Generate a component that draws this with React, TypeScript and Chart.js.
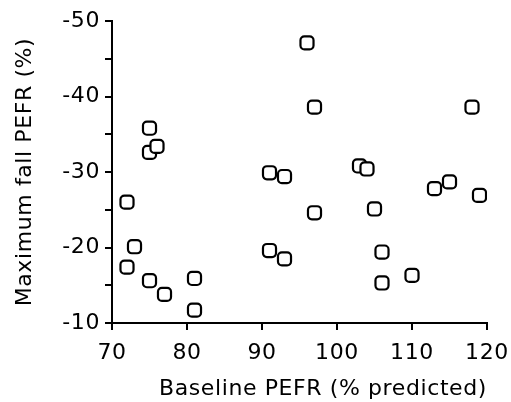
import React, { useEffect, useRef } from "react";
import { Chart, registerables } from "chart.js";

Chart.register(...registerables);

const baselinePefr: number[] = [
  72, 73, 72, 75, 77, 81, 81, 75, 75, 76,
  96, 97, 118, 91, 93, 103, 104, 113, 115, 119,
  97, 105, 91, 93, 106, 106, 110,
];
const maxFallPefr: number[] = [
  -26, -20.1, -17.4, -15.6, -13.8, -15.9, -11.7, -35.8, -32.6, -33.4,
  -47.1, -38.6, -38.6, -29.9, -29.4, -30.8, -30.4, -27.8, -28.7, -26.9,
  -24.6, -25.1, -19.6, -18.5, -19.4, -15.3, -16.3,
];
const xTickValues: number[] = [70, 80, 90, 100, 110, 120];
const yLabelledTicks: number[] = [-50, -40, -30, -20, -10];

const FONT = "DejaVu Sans";

const spacingPlugin = {
  id: "spacing",
  beforeDraw: (chart: any) => {
    chart.ctx.letterSpacing = "0.6px";
  },
};

export default function App() {
  const ref = useRef<HTMLCanvasElement | null>(null);
  useEffect(() => {
    if (!ref.current) return;
    const chart = new Chart(ref.current, {
      type: "scatter",
      data: {
        datasets: [
          {
            data: baselinePefr.map((x, i) => ({ x, y: maxFallPefr[i] })),
            pointStyle: "rectRounded",
            pointRadius: 7.6,
            pointBorderWidth: 2.2,
            borderColor: "#000",
            backgroundColor: "#fff",
          },
        ],
      },
      plugins: [spacingPlugin],
      options: {
        responsive: false,
        animation: false,
        devicePixelRatio: 1,
        layout: { padding: { top: 21, right: 24, left: 0, bottom: 0 } },
        plugins: { legend: { display: false }, tooltip: { enabled: false } },
        scales: {
          x: {
            type: "linear",
            min: 70,
            max: 120,
            afterBuildTicks: (s: any) => {
              s.ticks = xTickValues.map((v) => ({ value: v }));
            },
            afterFit: (s: any) => {
              s.height = 79;
              s.paddingLeft = 0;
              s.paddingRight = 0;
            },
            border: { display: true, color: "#000", width: 2 },
            grid: { display: true, drawOnChartArea: false, drawTicks: true, tickLength: 7, color: "#000", lineWidth: 2 },
            ticks: { color: "#000", font: { family: FONT, size: 22 }, padding: 10, maxRotation: 0 },
            title: { display: true, align: "end", text: "Baseline PEFR (% predicted)", color: "#000", font: { family: FONT, size: 22 }, padding: { top: 0, bottom: 0 } },
          },
          y: {
            type: "linear",
            reverse: true,
            min: -50,
            max: -10,
            afterBuildTicks: (s: any) => {
              const t: any[] = [];
              for (let v = -50; v <= -10; v += 5) t.push({ value: v });
              s.ticks = t;
            },
            afterFit: (s: any) => {
              s.width = 112;
              s.paddingTop = 0;
              s.paddingBottom = 0;
            },
            border: { display: true, color: "#000", width: 2 },
            grid: { display: true, drawOnChartArea: false, drawTicks: true, tickLength: 7, color: "#000", lineWidth: 2 },
            ticks: {
              color: "#000",
              font: { family: FONT, size: 22 },
              padding: 5,
              callback: (v: any) => (yLabelledTicks.includes(Number(v)) ? String(v) : ""),
            },
            title: { display: true, text: "Maximum fall PEFR (%)", color: "#000", font: { family: FONT, size: 22 }, padding: { top: 12, bottom: 0 } },
          },
        },
      },
    });
    return () => chart.destroy();
  }, []);
  return (
    <div style={{ position: "fixed", left: 0, top: 0, width: 511, height: 402, background: "#fff" }}>
      <canvas ref={ref} width={511} height={402} style={{ display: "block", width: 511, height: 402 }} />
    </div>
  );
}
